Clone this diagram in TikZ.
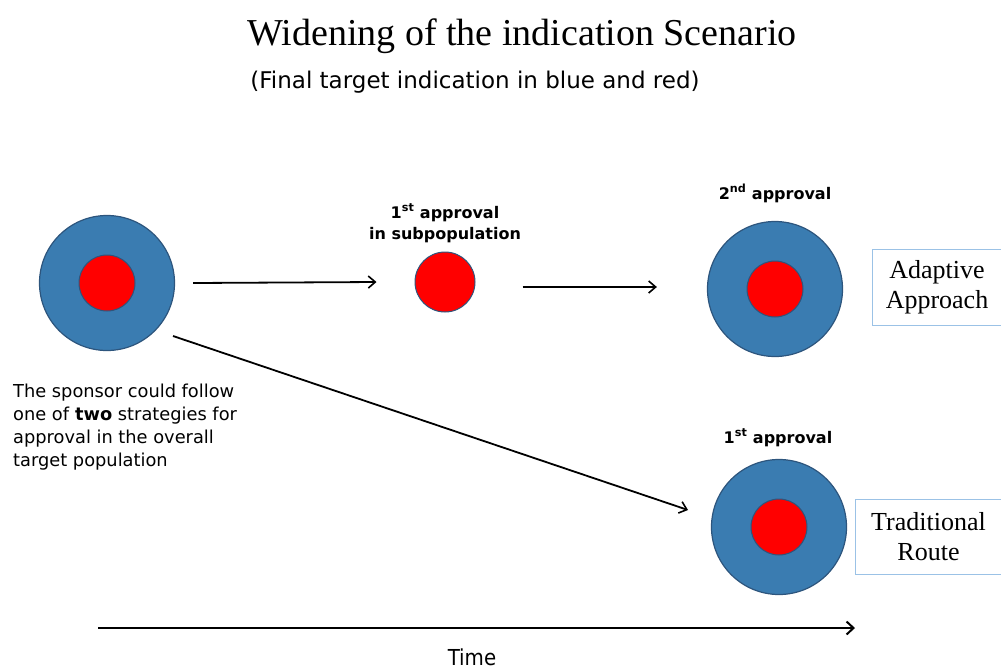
\documentclass[tikz,border=0pt]{standalone}
\usepackage{fontspec}
\setmainfont{Liberation Serif}
\newfontfamily\verd{DejaVu Sans}
\newfontfamily\taho{DejaVu Sans Condensed}
\usetikzlibrary{arrows.meta}
\definecolor{tblue}{RGB}{58,124,177}
\definecolor{tborder}{RGB}{45,85,125}
\definecolor{boxblue}{RGB}{155,194,230}
\tikzset{
  outer/.style={circle, fill=tblue, draw=tborder, line width=1.2pt, minimum size=135pt, inner sep=0pt},
  innerc/.style={circle, fill=red, draw=tborder, line width=1pt, minimum size=56pt, inner sep=0pt},
  arr/.style={line width=1.8pt, -{Straight Barb[length=7pt,width=12pt,line width=1.6pt]}},
  lbl/.style={font=\verd\bfseries\fontsize{16}{21}\selectfont, align=center, inner sep=0pt},
  boxn/.style={draw=boxblue, line width=0.9pt, align=center, inner sep=0pt, font=\fontsize{26}{30}\selectfont}
}
\begin{document}
\begin{tikzpicture}[x=1pt,y=-1pt]
\useasboundingbox (0,0) rectangle (1001,670);
% title
\node[anchor=base, font=\fontsize{38}{44}\selectfont, inner sep=0pt] (title) at (522,45) {Widening of the indication Scenario};
\node[anchor=base, font=\verd\fontsize{23}{27}\selectfont, inner sep=0pt] (sub) at (475,88) {(Final target indication in blue and red)};
% circles
\node[outer] (c1) at (107,283) {};
\node[innerc] (c1i) at (107,283) {};
\node[innerc, minimum size=60pt] (s1) at (445,282) {};
\node[outer] (c2) at (775,289) {};
\node[innerc] (c2i) at (775,289) {};
\node[outer] (c3) at (779,527) {};
\node[innerc] (c3i) at (779,527) {};
% labels
\node[lbl, anchor=base] (l1) at (445,239) {1\textsuperscript{st} approval\\in subpopulation};
\node[lbl, anchor=base] (l2) at (775,199) {2\textsuperscript{nd} approval};
\node[lbl, anchor=base] (l3) at (778,443) {1\textsuperscript{st} approval};
% boxes
\node[boxn, minimum width=130pt, minimum height=76pt] (b1) at (937,287) {Adaptive\\Approach};
\node[boxn, minimum width=147pt, minimum height=75pt] (b2) at (928.5,536.5) {Traditional\\Route};
% left text
\node[anchor=north west, align=left, inner sep=0pt, font=\verd\fontsize{17.8}{23}\selectfont] (txt) at (13,384)
  {The sponsor could follow\\one of \textbf{two} strategies for\\approval in the overall\\target population};
% arrows
\coordinate (a1s) at ([xshift=18pt]c1.east);
\coordinate (a1e) at ([xshift=-38pt]s1.west);
\draw[arr] (a1s) -- (a1e);
\coordinate (a2s) at ([shift={(47,5)}]s1.east);
\coordinate (a2e) at ([shift={(-50,-2)}]c2.west);
\draw[arr] (a2s) -- (a2e);
\coordinate (a3s) at ([shift={(66,53)}]c1.center);
\coordinate (a3e) at ([shift={(-91,-17)}]c3.center);
\draw[arr] (a3s) -- (a3e);
% time
\coordinate (t0) at (98,628);
\coordinate (t1) at (855,628);
\draw[line width=2.4pt, -{Straight Barb[length=7pt,width=13pt,line width=2pt]}] (t0) -- (t1);
\node[anchor=base, font=\taho\fontsize{22}{26}\selectfont, inner sep=0pt] (time) at (472,665) {Time};
\end{tikzpicture}
\end{document}
